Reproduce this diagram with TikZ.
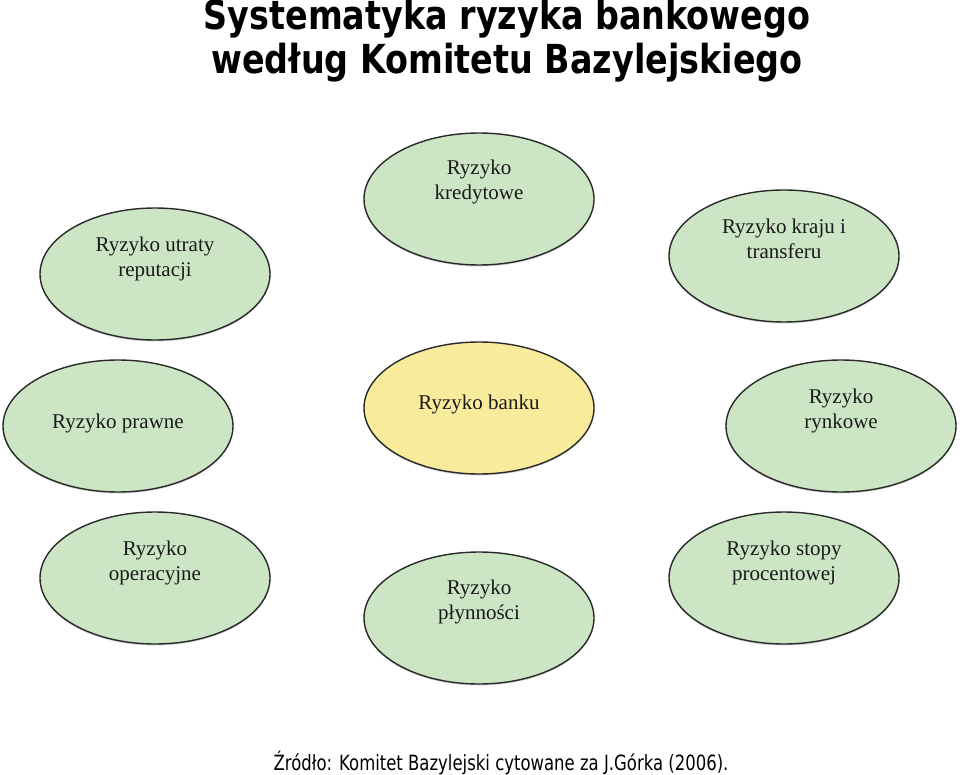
\documentclass[tikz,border=0pt]{standalone}
\usepackage{fontspec}
\setmainfont{Liberation Serif}
\newfontfamily\titlefont{DejaVu Sans}
\newfontfamily\footfont{DejaVu Sans}
\usetikzlibrary{shapes.geometric,shadows}
\definecolor{ovalgreen}{HTML}{CCE5C4}
\definecolor{ovalyellow}{HTML}{F8EC9C}
\definecolor{ovaledge}{HTML}{2A2A2A}
\definecolor{txt}{HTML}{1A1A1A}
\tikzset{
  oval/.style={ellipse, draw=ovaledge, line width=1.4pt, fill=ovalgreen,
    minimum width=230pt, minimum height=132pt, inner sep=0pt,
    drop shadow={shadow xshift=0pt, shadow yshift=-1.5pt, fill=black!35}},
  ovalcore/.style={oval, fill=ovalyellow},
  lbl/.style={align=center, text=txt, font=\fontsize{21}{25}\selectfont, inner sep=0pt},
  titletxt/.style={align=center, font=\titlefont\bfseries\fontsize{40}{45}\selectfont, inner sep=0pt},
  foottxt/.style={font=\footfont\fontsize{21}{24}\selectfont, inner sep=0pt, anchor=base}
}
\begin{document}
\begin{tikzpicture}[x=1pt,y=-1pt]
\useasboundingbox (0,0) rectangle (960,775);
% title
\node[titletxt] (title1) at (507,19) {\scalebox{0.835}[1]{Systematyka ryzyka bankowego}};
\node[titletxt] (title2) at (507,63) {\scalebox{0.835}[1]{według Komitetu Bazylejskiego}};
% ellipses
\node[oval] (kred) at (479,199) {};
\node[oval] (rep) at (155,274) {};
\node[oval] (kraj) at (784,256) {};
\node[oval] (praw) at (118,426) {};
\node[ovalcore] (bank) at (479,408) {};
\node[oval] (rynk) at (841,426) {};
\node[oval] (oper) at (155,578) {};
\node[oval] (plyn) at (479,618) {};
\node[oval] (stop) at (784,578) {};
% labels
\node[lbl] (kredT) at (479,182) {Ryzyko\\kredytowe};
\node[lbl] (repT) at (155,259) {Ryzyko utraty\\reputacji};
\node[lbl] (krajT) at (784,239) {Ryzyko kraju i\\transferu};
\node[lbl] (prawT) at (118,423) {Ryzyko prawne};
\node[lbl] (bankT) at (479,404) {Ryzyko banku};
\node[lbl] (rynkT) at (841,411) {Ryzyko\\rynkowe};
\node[lbl] (operT) at (155,563) {Ryzyko\\operacyjne};
\node[lbl] (plynT) at (479,602) {Ryzyko\\płynności};
\node[lbl] (stopT) at (784,563) {Ryzyko stopy\\procentowej};
% footer
\node[foottxt] (foot) at (501,770) {\scalebox{0.785}[1]{Źródło: Komitet Bazylejski cytowane za J.Górka (2006).}};
\end{tikzpicture}
\end{document}
